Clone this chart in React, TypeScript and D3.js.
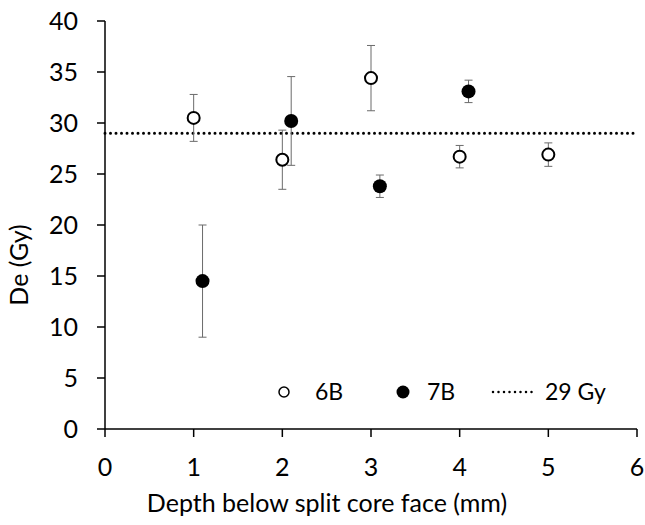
import React from "react";
import * as d3 from "d3";

// 6B (open circles)
const depth6B = [1, 2, 3, 4, 5];
const de6B = [30.5, 26.4, 34.4, 26.7, 26.9];
const err6B = [2.3, 2.9, 3.2, 1.1, 1.15];

// 7B (filled circles)
const depth7B = [1.1, 2.1, 3.1, 4.1];
const de7B = [14.5, 30.2, 23.8, 33.1];
const err7B = [5.5, 4.35, 1.1, 1.1];

const refDose = 29;
const xTicks = [0, 1, 2, 3, 4, 5, 6];
const yTicks = [0, 5, 10, 15, 20, 25, 30, 35, 40];

const W = 645;
const H = 525;
const FONT = "Lato, 'Open Sans', sans-serif";

export default function App() {
  const margin = { left: 105, top: 21, right: 8, bottom: 96 };
  const x = d3.scaleLinear().domain([0, 6]).range([margin.left, W - margin.right]);
  const y = d3.scaleLinear().domain([0, 40]).range([H - margin.bottom, margin.top]);
  const r = 7;
  const errColor = "#6b6b6b";

  const bars = (xs: number[], ys: number[], es: number[]) =>
    xs.map((d, i) => (
      <g key={i} stroke={errColor} strokeWidth={1}>
        <line x1={x(d)} x2={x(d)} y1={y(ys[i] - es[i])} y2={y(ys[i] + es[i])} />
        <line x1={x(d) - 4} x2={x(d) + 4} y1={y(ys[i] + es[i])} y2={y(ys[i] + es[i])} />
        <line x1={x(d) - 4} x2={x(d) + 4} y1={y(ys[i] - es[i])} y2={y(ys[i] - es[i])} />
      </g>
    ));

  return (
    <svg width={W} height={H} style={{ position: "absolute", left: 0, top: 0 }} fontFamily={FONT}>
      <rect width={W} height={H} fill="#fff" />
      {/* reference line */}
      <line
        x1={x(0)}
        x2={x(6)}
        y1={y(refDose)}
        y2={y(refDose)}
        stroke="#000"
        strokeWidth={3}
        strokeDasharray="0 5.5"
        strokeLinecap="round"
      />
      {bars(depth6B, de6B, err6B)}
      {bars(depth7B, de7B, err7B)}
      {depth6B.map((d, i) => (
        <circle key={"o" + i} cx={x(d)} cy={y(de6B[i])} r={r - 1} fill="#fff" stroke="#000" strokeWidth={2} />
      ))}
      {depth7B.map((d, i) => (
        <circle key={"f" + i} cx={x(d)} cy={y(de7B[i])} r={r} fill="#000" />
      ))}

      {/* axes */}
      <line x1={x(0)} x2={x(0)} y1={y(0)} y2={y(40)} stroke="#000" strokeWidth={1.5} />
      <line x1={x(0)} x2={x(6)} y1={y(0)} y2={y(0)} stroke="#000" strokeWidth={1.5} />
      {yTicks.map(t => (
        <g key={"y" + t}>
          <line x1={x(0) - 8} x2={x(0)} y1={y(t)} y2={y(t)} stroke="#000" strokeWidth={1.5} />
          <text x={x(0) - 27} y={y(t)} dy="0.35em" textAnchor="end" fontSize={25} fill="#000">
            {t}
          </text>
        </g>
      ))}
      {xTicks.map(t => (
        <g key={"x" + t}>
          <line x1={x(t)} x2={x(t)} y1={y(0)} y2={y(0) + 8} stroke="#000" strokeWidth={1.5} />
          <text x={x(t)} y={y(0) + 38} dy="0.35em" textAnchor="middle" fontSize={25} fill="#000">
            {t}
          </text>
        </g>
      ))}
      <text x={(x(0) + x(6)) / 2 - 44} y={503} dy="0.35em" textAnchor="middle" fontSize={25} fill="#000">
        Depth below split core face (mm)
      </text>
      <text
        transform={`translate(19,${(y(0) + y(40)) / 2 + 40}) rotate(-90)`}
        dy="0.35em"
        textAnchor="middle"
        fontSize={25}
        fill="#000"
      >
        De (Gy)
      </text>

      {/* legend */}
      <g fontSize={23} fill="#000">
        <circle cx={284} cy={392} r={5} fill="#fff" stroke="#000" strokeWidth={1.5} />
        <text x={315} y={392} dy="0.35em">6B</text>
        <circle cx={403} cy={392} r={6.5} fill="#000" />
        <text x={427} y={392} dy="0.35em">7B</text>
        <line x1={493} x2={537} y1={392} y2={392} stroke="#000" strokeWidth={2.5} strokeDasharray="0 5.5" strokeLinecap="round" />
        <text x={545} y={392} dy="0.35em">29 Gy</text>
      </g>
    </svg>
  );
}
